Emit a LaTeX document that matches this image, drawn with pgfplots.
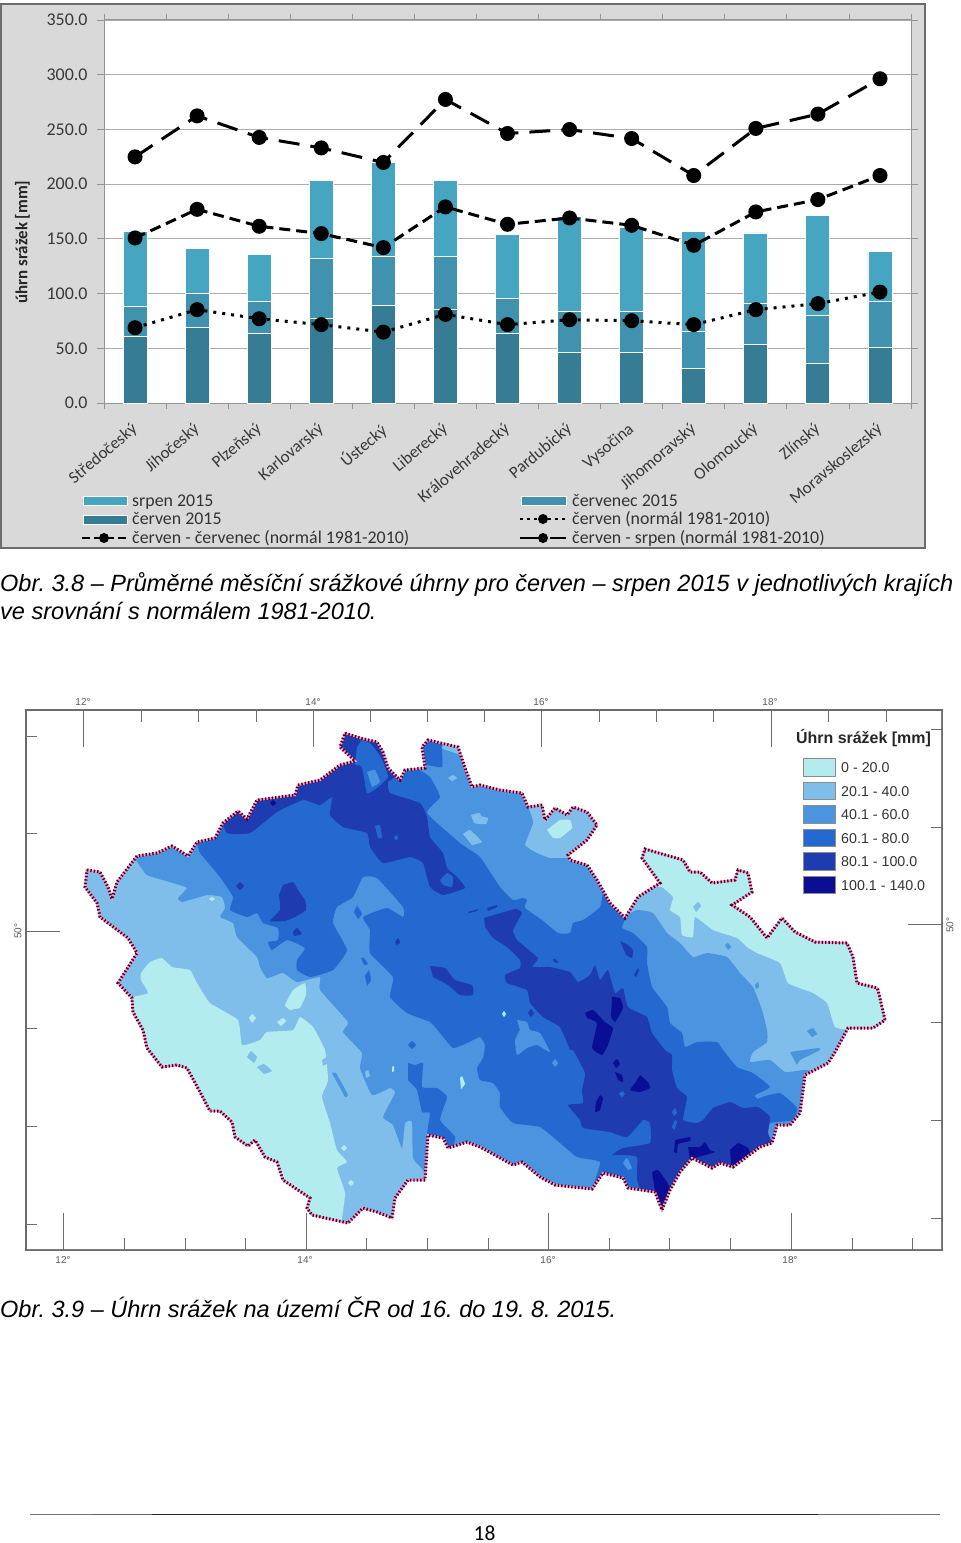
\documentclass[border=0pt]{standalone}
\usepackage{pgfplots}
\pgfplotsset{compat=1.18}
\usepackage{fontspec}
\setmainfont{Liberation Sans}
\newfontfamily\carlito{Carlito}
\definecolor{panel}{HTML}{D9D9D9}
\definecolor{barA}{HTML}{46A5C1}
\definecolor{barB}{HTML}{4192AE}
\definecolor{barC}{HTML}{367C94}
\definecolor{cA}{HTML}{B2ECEE}
\definecolor{cB}{HTML}{7FBDEA}
\definecolor{cC}{HTML}{4A94E0}
\definecolor{cD}{HTML}{2469CF}
\definecolor{cE}{HTML}{1E3CB0}
\definecolor{cF}{HTML}{0A0E94}
\newcommand\poly[2]{\addplot[fill=#1,draw=none,forget plot,smooth,tension=0.25] coordinates {#2} --cycle;}
\newcommand\borderplot[3]{\addplot[#1,forget plot] coordinates {#2
(87,870)(100,872)(108,887)(112,899)(117,882)(137,856)(157,853)(172,846)(188,856)(197,842)(215,838)(223,823)(238,811)(247,819)(257,800)(295,795)(298,785)(320,780)(340,765)(355,761)(340,747)(345,733)(360,738)(377,742)(383,752)(388,768)(400,780)(405,770)(425,768)(422,747)(428,740)(458,747)(463,762)(472,787)(480,785)(500,790)(522,793)(528,807)(542,805)(545,820)(555,808)(567,815)(573,807)(587,812)(597,825)(587,840)(568,855)(570,860)(587,865)(597,880)(610,903)(625,918)(638,897)(660,883)(642,858)(645,849)(683,860)(690,872)(700,872)(712,883)(735,880)(738,870)(748,873)(752,892)(732,905)(750,917)(767,938)(782,918)(795,932)(815,942)(847,943)(853,957)(857,983)(877,988)(878,990)(885,1020)(873,1028)(848,1028)(835,1052)(828,1063)(805,1075)(800,1113)(790,1125)(777,1125)(772,1143)(760,1147)(733,1167)(720,1163)(712,1168)(692,1158)(680,1172)(670,1190)(662,1210)(655,1192)(628,1188)(623,1178)(603,1173)(592,1189)(555,1185)(540,1177)(522,1162)(513,1165)(480,1147)(467,1142)(448,1148)(443,1138)(428,1135)(425,1180)(408,1180)(395,1198)(392,1218)(377,1212)(363,1208)(348,1223)(312,1215)(307,1208)(310,1198)(283,1180)(277,1162)(265,1157)(255,1140)(248,1146)(235,1137)(232,1122)(220,1111)(210,1111)(200,1092)(187,1068)(177,1065)(162,1067)(147,1048)(143,1030)(133,1012)(132,998)(118,983)(137,953)(128,938)(100,917)(97,903)(85,887)(87,870)
#3} --cycle;}
\newcommand\tk[4]{\addplot[color=gray!85!black,line width=0.9bp,forget plot] coordinates {(#1,#2)(#3,#4)};}
\begin{document}
\frenchspacing
\begin{tikzpicture}[x=1bp,y=1bp]
\useasboundingbox (0,0) rectangle (960,-1543);
\fill[white] (0,0) rectangle (960,-1543);
\draw[fill=panel,draw=gray!85!black,line width=2bp] (1,-4) rectangle (925,-548);
% BAR CHART
\begin{axis}[at={(104bp,-403bp)},anchor=south west,scale only axis,width=807bp,height=383bp,
 axis background/.style={fill=white},
 ybar stacked,bar width=24bp,xmin=-0.5,xmax=12.5,ymin=0,ymax=350,
 ytick={0,50,...,350},ymajorgrids,grid style={color=black!32,line width=0.9bp},
 axis line style={color=black!42,line width=1bp},
 yticklabel style={/pgf/number format/fixed,/pgf/number format/fixed zerofill,/pgf/number format/precision=1,/pgf/number format/assume math mode=true,font=\fontsize{18}{18}\selectfont\carlito,text=black!78,xshift=-6bp},
 y tick style={color=black!42,line width=0.8bp},
 tick align=outside,major tick length=7bp,minor tick length=6bp,
 xtick={0,...,12},
 minor xtick={-0.5,0.5,...,12.5},
 x tick style={draw=none},
 minor x tick style={draw=black!42,line width=0.8bp},
 xticklabels={Středočeský,Jihočeský,Plzeňský,Karlovarský,Ústecký,Liberecký,Královehradecký,Pardubický,Vysočina,Jihomoravský,Olomoucký,Zlínský,Moravskoslezský},
 xticklabel style={rotate=40,anchor=north east,inner sep=0pt,yshift=-6bp,xshift=-11bp,font=\fontsize{17}{17}\selectfont\carlito,text=black!78},
 ylabel={\bfseries úhrn srážek [mm]},
 ylabel style={font=\fontsize{17}{17}\selectfont\carlito,text=black!85,at={(axis description cs:-0.101,0.42)},anchor=center},
]
\addplot[fill=barC,draw=white,line width=0.9bp] coordinates {(0,60.8)(1,69.4)(2,63.3)(3,77.3)(4,88.9)(5,85.6)(6,63.9)(7,46.5)(8,46.5)(9,31.3)(10,53.5)(11,36.4)(12,51)};
\addplot[fill=barB,draw=white,line width=0.9bp] coordinates {(0,27.8)(1,30.8)(2,29.3)(3,54.9)(4,45.4)(5,48.4)(6,32)(7,37.5)(8,37.5)(9,34.4)(10,37.8)(11,43.6)(12,41.6)};
\addplot[fill=barA,draw=white,line width=0.9bp] coordinates {(0,68.6)(1,41.2)(2,43.3)(3,71.4)(4,85.7)(5,69.6)(6,58)(7,86.6)(8,76)(9,91)(10,64.1)(11,91)(12,46)};
\end{axis}
\begin{axis}[at={(104bp,-403bp)},anchor=south west,scale only axis,width=807bp,height=383bp,
 xmin=-0.5,xmax=12.5,ymin=0,ymax=350,axis lines=none,clip=false]
\addplot[black,line width=3bp,dash pattern=on 21bp off 11bp,mark=*,mark size=6bp,mark options={solid}] coordinates {(0,224.9)(1,262.4)(2,242.7)(3,233.1)(4,219.8)(5,277.4)(6,246.3)(7,249.9)(8,241.7)(9,207.9)(10,250.9)(11,264)(12,296.3)};
\addplot[black,line width=3bp,dash pattern=on 11bp off 6bp,mark=*,mark size=6bp,mark options={solid}] coordinates {(0,150.8)(1,177)(2,161.5)(3,154.8)(4,142)(5,179.2)(6,163.3)(7,169.1)(8,162.4)(9,144.1)(10,174.6)(11,185.9)(12,207.9)};
\addplot[black,line width=3bp,dash pattern=on 3bp off 6bp,mark=*,mark size=6bp,mark options={solid}] coordinates {(0,68.8)(1,85.3)(2,77)(3,71.6)(4,64.8)(5,81)(6,71.6)(7,76.1)(8,75.2)(9,71.6)(10,85.3)(11,90.8)(12,101.4)};
\end{axis}
% legend of the bar chart
\begin{scope}[every node/.style={anchor=base west,inner sep=0pt,font=\fontsize{17.95}{17.95}\selectfont\carlito,text=black!80}]
\fill[barA,draw=white] (83,-496) rectangle (127,-505);
\fill[barC,draw=white] (83,-515) rectangle (127,-524);
\fill[barB,draw=white] (521,-496) rectangle (566,-505);
\node at (132,-506) {srpen 2015};
\node at (132,-524.5) {červen 2015};
\node at (132,-543.5) {červen - červenec (normál 1981-2010)};
\node at (572,-506) {červenec 2015};
\node at (572,-524.5) {červen (normál 1981-2010)};
\node at (572,-543.5) {červen - srpen (normál 1981-2010)};
\draw[black,line width=2.6bp,dash pattern=on 8bp off 4bp] (82,-538) -- (127,-538);
\fill[black] (104,-538) circle (5bp);
\draw[black,line width=2.6bp,dash pattern=on 3bp off 4bp] (520,-519) -- (566,-519);
\fill[black] (543,-519) circle (5bp);
\draw[black,line width=2.6bp,dash pattern=on 24bp off 6bp] (520,-538) -- (566,-538);
\fill[black] (543,-538) circle (5bp);
\end{scope}
% captions
\begin{scope}[every node/.style={anchor=west,inner sep=0pt,font=\fontsize{23.6}{23.6}\selectfont\itshape}]
\node at (0,-584) {Obr. 3.8 – Průměrné měsíční srážkové úhrny pro červen – srpen 2015 v jednotlivých krajích};
\node at (0,-611) {ve srovnání s normálem 1981-2010.};
\node at (0,-1307) {Obr. 3.9 – Úhrn srážek na území ČR od 16. do 19. 8. 2015.};
\end{scope}
% MAP
\begin{axis}[at={(26bp,-1250bp)},anchor=south west,scale only axis,width=916bp,height=540bp,
 xmin=26,xmax=942,ymin=710,ymax=1250,y dir=reverse,clip=false,
 axis line style={color=gray!85!black,line width=1.5bp},ticks=none]
\addplot[fill=cB,draw=none,forget plot] coordinates {(60,730)(920,730)(920,1235)(60,1235)} --cycle;
% below 20 mm
\poly{cA}{(120,1005)(133,997)(148,993)(141,980)(141,973)(150,962)(162,958)(172,967)(190,970)(197,983)(210,1003)(238,1020)(242,1045)(260,1040)(267,1032)(293,1030)(300,1017)(313,1027)(325,1050)(328,1080)(322,1097)(330,1123)(337,1150)(347,1162)(337,1168)(345,1193)(342,1218)(340,1235)(250,1235)(100,1100)}
\poly{cA}{(630,850)(655,885)(662,887)(673,897)(670,910)(680,917)(682,935)(693,937)(695,917)(713,930)(737,938)(747,947)(757,953)(780,963)(788,983)(813,993)(827,1003)(835,1027)(850,1030)(900,1035)(900,940)(760,850)}
\poly{cA}{(290,1010)(285,1005)(293,990)(305,983)(306,995)(300,1008)}
\poly{cA}{(249,1018)(252,1014)(256,1018)(252,1023)}
\poly{cA}{(277,1022)(283,1018)(286,1021)(281,1026)}
\poly{cA}{(547,830)(560,820)(570,820)(572,828)(560,838)(553,838)}
\poly{cA}{(209,899)(212,897)(215,899)(212,901)}
\poly{cA}{(248,925)(251,921)(254,925)(251,929)}
\poly{cA}{(283,958)(287,952)(291,958)(287,965)}
\poly{cB}{(247,1057)(251,1051)(257,1057)(254,1063)}
\poly{cB}{(257,1067)(264,1064)(272,1071)(264,1074)}
\poly{cB}{(693,907)(698,902)(701,906)(696,912)}
\poly{cB}{(322,1060)(327,1057)(329,1062)(323,1066)}
% 40 - 60 mm
\poly{cC}{(130,850)(200,830)(340,720)(525,780)(528,805)(533,823)(525,845)(537,853)(550,858)(568,858)(590,860)(600,880)(615,900)(625,915)(637,910)(653,913)(667,933)(680,943)(693,957)(707,953)(727,957)(740,973)(753,987)(762,1010)(767,1030)(767,1042)(753,1052)(750,1062)(770,1060)(785,1072)(805,1070)(820,1075)(815,1130)(780,1155)(700,1190)(650,1220)(500,1210)(432,1190)(423,1170)(413,1158)(412,1122)(405,1123)(402,1148)(393,1125)(383,1117)(395,1093)(390,1088)(372,1095)(360,1068)(362,1053)(343,1032)(348,1022)(320,990)(320,977)(297,982)(283,973)(267,978)(260,967)(257,957)(237,937)(233,923)(220,917)(225,908)(222,897)(207,895)(182,902)(178,898)(187,888)(173,883)(147,875)(138,863)}
\poly{cC}{(790,1052)(818,1048)(820,1050)(800,1060)(797,1065)}
\poly{cC}{(807,1031)(813,1028)(817,1034)(812,1037)}
\poly{cC}{(725,945)(728,943)(731,947)(728,950)}
\poly{cC}{(332,1073)(336,1073)(348,1095)(345,1097)}
\poly{cC}{(755,985)(758,982)(759,987)(756,989)}
\poly{cB}{(448,778)(453,775)(457,778)(452,781)}
\poly{cB}{(420,793)(425,792)(432,804)(428,806)}
\poly{cB}{(463,834)(470,830)(482,842)(472,845)}
\poly{cB}{(471,815)(480,813)(482,824)(474,823)}
\poly{cB}{(480,816)(488,818)(486,824)(481,824)}
\poly{cB}{(365,1072)(368,1070)(370,1076)(366,1078)}
\poly{cB}{(323,1092)(330,1085)(338,1092)(330,1099)}
\poly{cA}{(460,1078)(462,1076)(465,1084)(461,1089)}
\poly{cA}{(392,1067)(394,1066)(394,1071)(392,1072)}
\poly{cA}{(341,1148)(344,1145)(347,1148)(344,1151)}
\poly{cA}{(348,1183)(351,1180)(354,1183)(351,1186)}
% 60 - 80 mm
\poly{cD}{(190,835)(197,843)(200,853)(220,877)(233,897)(230,910)(247,917)(257,913)(263,923)(278,928)(278,940)(268,942)(272,950)(287,940)(305,948)(297,960)(297,970)(310,977)(333,970)(347,950)(333,923)(337,907)(353,897)(363,877)(377,878)(403,907)(403,917)(387,908)(363,917)(370,930)(370,953)(393,977)(390,997)(407,1013)(430,1022)(440,1033)(453,1048)(467,1043)(480,1037)(485,1045)(483,1058)(477,1068)(480,1080)(493,1083)(500,1093)(500,1107)(513,1123)(540,1127)(560,1143)(577,1157)(600,1162)(593,1187)(595,1200)(650,1225)(700,1200)(770,1160)(768,1133)(770,1123)(793,1120)(797,1108)(780,1093)(757,1098)(755,1095)(770,1087)(753,1073)(737,1067)(723,1050)(717,1042)(697,1042)(685,1047)(682,1033)(670,1023)(667,1007)(652,987)(647,963)(647,947)(633,933)(622,928)(625,918)(620,900)(605,885)(600,907)(583,920)(573,923)(570,933)(558,933)(542,920)(525,908)(527,900)(523,898)(513,900)(500,887)(480,857)(460,843)(427,813)(440,797)(430,777)(417,768)(427,765)(442,767)(442,747)(445,725)(340,720)}
\poly{cD}{(408,1063)(415,1065)(423,1063)(422,1087)(437,1088)(447,1097)(440,1120)(455,1137)(450,1155)(427,1140)(430,1113)(422,1112)(417,1090)(408,1080)}
\poly{cD}{(408,1045)(412,1041)(416,1045)(412,1049)}
\poly{cD}{(354,912)(357,906)(362,914)(358,919)}
\poly{cD}{(365,976)(369,970)(371,980)(367,986)}
\poly{cD}{(361,958)(364,958)(368,964)(364,965)}
\poly{cC}{(517,1020)(527,1022)(530,1030)(540,1033)(550,1052)(537,1045)(527,1048)(517,1055)(515,1040)(520,1030)}
\poly{cC}{(552,1063)(555,1059)(558,1063)(555,1067)}
\poly{cC}{(623,1163)(627,1158)(632,1168)(628,1170)}
\poly{cC}{(770,1125)(778,1122)(778,1132)(771,1135)}
\poly{cC}{(757,1094)(772,1090)(772,1093)(757,1099)}
\poly{cA}{(502,1014)(504,1011)(506,1014)(504,1017)}
% 80 - 100 mm
\poly{cE}{(220,815)(227,833)(250,833)(277,812)(303,800)(320,805)(332,797)(330,815)(343,827)(367,833)(370,847)(383,863)(410,857)(423,863)(430,887)(443,895)(465,888)(457,877)(447,868)(443,853)(430,837)(427,817)(420,803)(390,793)(388,782)(395,775)(392,720)(340,720)}
\poly{cE}{(484,918)(515,909)(522,913)(513,930)(517,940)(538,958)(532,967)(550,967)(570,972)(578,982)(590,975)(595,965)(600,980)(608,970)(615,993)(623,988)(628,1007)(647,1017)(652,1033)(665,1050)(672,1055)(672,1070)(677,1088)(687,1097)(683,1120)(697,1123)(703,1120)(713,1108)(730,1102)(743,1108)(758,1107)(770,1117)(768,1133)(775,1160)(700,1200)(660,1225)(645,1200)(637,1180)(637,1157)(623,1155)(612,1155)(623,1148)(650,1143)(650,1123)(643,1120)(627,1137)(610,1132)(583,1128)(580,1120)(568,1105)(583,1103)(582,1090)(585,1073)(573,1050)(570,1050)(560,1027)(543,1017)(530,1003)(527,990)(507,983)(505,975)(520,968)(520,960)(507,947)(493,938)(485,927)}
\poly{cE}{(283,885)(293,882)(298,890)(305,900)(306,910)(295,917)(285,921)(270,921)(280,910)(279,895)}
\poly{cE}{(430,966)(445,968)(455,980)(472,985)(473,995)(460,995)(448,985)(433,977)}
\poly{cE}{(240,882)(244,886)(240,890)(236,886)}
\poly{cE}{(293,932)(297,928)(302,934)(294,936)}
\poly{cE}{(620,941)(628,945)(633,950)(632,958)(626,955)}
\poly{cE}{(634,975)(638,968)(639,970)(636,977)}
\poly{cE}{(553,959)(557,960)(558,963)(554,962)}
\poly{cE}{(468,912)(478,909)(477,911)(469,913)}
\poly{cE}{(487,908)(497,905)(497,907)(488,911)}
\poly{cE}{(395,942)(398,938)(400,943)(396,945)}
\poly{cE}{(528,1013)(531,1009)(534,1013)(531,1017)}
\poly{cD}{(357,747)(362,740)(370,743)(378,753)(383,762)(388,777)(377,788)(367,793)(362,767)(355,765)}
\poly{cD}{(440,880)(447,873)(453,877)(452,887)(443,885)}
\poly{cD}{(375,826)(380,825)(382,838)(378,838)}
\poly{cD}{(394,837)(397,835)(398,839)(395,840)}
\poly{cC}{(367,772)(375,770)(380,782)(372,787)}
\poly{cD}{(672,1112)(675,1108)(677,1113)(674,1116)}
\poly{cD}{(672,1127)(675,1120)(677,1122)(674,1130)}
\poly{cD}{(605,1140)(608,1136)(610,1140)(607,1143)}
\poly{cD}{(619,1094)(622,1091)(625,1094)(622,1097)}
% above 100 mm
\poly{cF}{(612,997)(620,998)(623,1008)(615,1022)(611,1017)}
\poly{cF}{(585,1013)(593,1010)(605,1022)(613,1028)(608,1045)(602,1055)(592,1048)(597,1023)(587,1018)}
\poly{cF}{(613,1063)(617,1059)(620,1064)(616,1068)}
\poly{cF}{(615,1072)(622,1075)(623,1082)(618,1080)}
\poly{cF}{(640,1075)(648,1082)(650,1088)(640,1092)(630,1090)(635,1083)}
\poly{cF}{(600,1095)(603,1098)(600,1110)(595,1112)(596,1102)}
\poly{cF}{(675,1140)(690,1137)(690,1141)(678,1144)(677,1153)(674,1152)}
\poly{cF}{(688,1147)(700,1147)(705,1142)(710,1150)(715,1152)(705,1155)(695,1158)(690,1160)}
\poly{cF}{(730,1150)(738,1143)(748,1148)(750,1155)(735,1167)(731,1165)}
\poly{cF}{(652,1172)(658,1170)(667,1182)(670,1190)(662,1210)(655,1192)}
\poly{cF}{(270,803)(273,800)(276,803)(273,806)}
% outside and border
\borderplot{fill=white,draw=none,even odd rule}{(27,711)(941,711)(941,1249)(27,1249)(27,711)}{}
\borderplot{draw=white!60!magenta,line width=2.2bp}{}{}
\borderplot{draw=black!55!purple,line width=3bp,dash pattern=on 1.4bp off 2bp}{}{}
% graticule
\tk{83}{710}{83}{747}\tk{313}{710}{313}{747}\tk{541.5}{710}{541.5}{747}\tk{771}{710}{771}{747}
\tk{141}{710}{141}{722}\tk{198}{710}{198}{722}\tk{256}{710}{256}{722}\tk{370}{710}{370}{722}\tk{427}{710}{427}{722}\tk{484}{710}{484}{722}\tk{599}{710}{599}{722}\tk{656}{710}{656}{722}\tk{713}{710}{713}{722}\tk{828}{710}{828}{722}\tk{886}{710}{886}{722}
\tk{63}{1250}{63}{1213}\tk{306}{1250}{306}{1213}\tk{548}{1250}{548}{1213}\tk{791}{1250}{791}{1213}
\tk{124}{1250}{124}{1238}\tk{185}{1250}{185}{1238}\tk{245}{1250}{245}{1238}\tk{366}{1250}{366}{1238}\tk{427}{1250}{427}{1238}\tk{488}{1250}{488}{1238}\tk{609}{1250}{609}{1238}\tk{669}{1250}{669}{1238}\tk{730}{1250}{730}{1238}\tk{852}{1250}{852}{1238}\tk{912}{1250}{912}{1238}
\tk{26}{736}{37}{736}\tk{26}{833}{37}{833}\tk{26}{931}{60}{931}\tk{26}{1028}{37}{1028}\tk{26}{1126}{37}{1126}\tk{26}{1224}{37}{1224}
\tk{942}{729}{931}{729}\tk{942}{827}{931}{827}\tk{942}{924}{908}{924}\tk{942}{1022}{931}{1022}\tk{942}{1120}{931}{1120}\tk{942}{1218}{931}{1218}
\end{axis}
% map labels
\begin{scope}[every node/.style={inner sep=0pt,font=\fontsize{10}{10}\selectfont,text=black!65}]
\node at (83,-702) {12°};\node at (313,-702) {14°};\node at (541,-702) {16°};\node at (770,-702) {18°};
\node at (63,-1260) {12°};\node at (305,-1260) {14°};\node at (548,-1260) {16°};\node at (790,-1260) {18°};
\node[rotate=90] at (18,-931) {50°};\node[rotate=90] at (950,-925) {50°};
\end{scope}
% map legend
\node[anchor=west,inner sep=0pt,font=\fontsize{16}{16}\selectfont\bfseries,text=black!85] at (796,-738.5) {Úhrn srážek [mm]};
\begin{scope}[every node/.style={anchor=west,inner sep=0pt,font=\fontsize{14.3}{14.3}\selectfont,text=black!80}]
\filldraw[fill=cA,draw=black!45,line width=0.7bp] (803.5,-758) rectangle (835.5,-776);
\filldraw[fill=cB,draw=black!45,line width=0.7bp] (803.5,-782) rectangle (835.5,-799.5);
\filldraw[fill=cC,draw=black!45,line width=0.7bp] (803.5,-805) rectangle (835.5,-823);
\filldraw[fill=cD,draw=black!45,line width=0.7bp] (803.5,-829) rectangle (835.5,-846.5);
\filldraw[fill=cE,draw=black!45,line width=0.7bp] (803.5,-852.5) rectangle (835.5,-870);
\filldraw[fill=cF,draw=black!45,line width=0.7bp] (803.5,-876) rectangle (835.5,-893.5);
\node at (841,-768) {0 - 20.0};
\node at (841,-791.5) {20.1 - 40.0};
\node at (841,-815) {40.1 - 60.0};
\node at (841,-838.5) {60.1 - 80.0};
\node at (841,-862) {80.1 - 100.0};
\node at (841,-885.5) {100.1 - 140.0};
\end{scope}
% foot
\draw[black!55,line width=0.8bp] (30,-1514.5) -- (940,-1514.5);
\draw[black!60,line width=1.4bp] (92,-1514.5) -- (880,-1514.5);
\draw[black!85,line width=1.8bp] (152,-1514.5) -- (818,-1514.5);
\node[inner sep=0pt,font=\fontsize{21.5}{21.5}\selectfont\carlito] at (484.5,-1533) {18};
\end{tikzpicture}
\end{document}
